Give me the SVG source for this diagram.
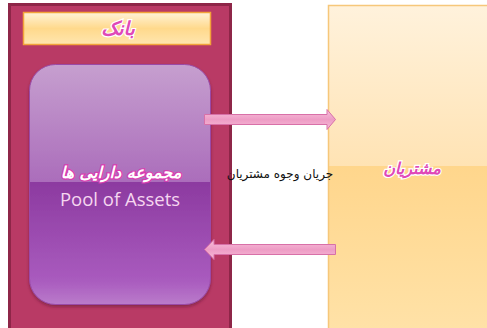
<svg xmlns="http://www.w3.org/2000/svg" width="487" height="328" viewBox="0 0 487 328">
<defs>
<linearGradient id="title" x1="0" y1="0" x2="0" y2="1">
<stop offset="0" stop-color="#FFF3D8"/>
<stop offset="0.5" stop-color="#FFD98C"/>
<stop offset="1" stop-color="#FFE6B0"/>
</linearGradient>
<linearGradient id="pool" x1="0" y1="0" x2="0" y2="1">
<stop offset="0" stop-color="#C69FCF"/>
<stop offset="0.49" stop-color="#AB6DBB"/>
<stop offset="0.49" stop-color="#8C3AA0"/>
<stop offset="0.9" stop-color="#A95BBE"/>
<stop offset="1" stop-color="#BA7BCB"/>
</linearGradient>
<linearGradient id="cust" x1="0" y1="0" x2="0" y2="1">
<stop offset="0" stop-color="#FFF2DC"/>
<stop offset="0.485" stop-color="#FFE3B4"/>
<stop offset="0.485" stop-color="#FFD68C"/>
<stop offset="1" stop-color="#FFE2A8"/>
</linearGradient>
<linearGradient id="arrow" x1="0" y1="0" x2="0" y2="1">
<stop offset="0" stop-color="#F7C2DC"/>
<stop offset="0.5" stop-color="#EE9CC5"/>
<stop offset="1" stop-color="#F6BCD8"/>
</linearGradient>
<filter id="sh" x="-10%" y="-10%" width="120%" height="120%">
<feDropShadow dx="0" dy="2" stdDeviation="1.5" flood-color="#5A1030" flood-opacity="0.5"/>
</filter>
</defs>
<style>
.fa{font-family:"DejaVu Sans","Noto Sans",sans-serif;}
.lbl{font-weight:bold;font-style:italic;fill:#E048B8;stroke:#FFFFFF;stroke-width:2.4;paint-order:stroke;}
.lblw{font-weight:bold;font-style:italic;fill:#FFFFFF;stroke:#D93CB0;stroke-width:2.4;paint-order:stroke;}
.arr{fill:url(#arrow);stroke:#D870A8;stroke-width:1;}
</style>
<g id="bank">
<rect x="9.5" y="4.5" width="221" height="330" fill="#B93A65" stroke="#8E2648" stroke-width="3"/>
</g>
<g id="bank-title">
<rect x="23.5" y="12.5" width="187" height="32" fill="url(#title)" stroke="#F2A33A" stroke-width="1.5"/>
<text class="fa lbl" x="118" y="35" font-size="19" text-anchor="middle" direction="rtl">بانک</text>
</g>
<g id="pool">
<rect x="29.5" y="64.5" width="181" height="240" rx="26" fill="url(#pool)" stroke="#9A4AA8" stroke-width="1" filter="url(#sh)"/>
<text class="fa lblw" x="121" y="178" font-size="16" text-anchor="middle" direction="rtl">مجموعه دارایی ها</text>
<text x="120" y="206" font-family="'Open Sans','DejaVu Sans',sans-serif" font-size="18.5" fill="#F6D6F0" text-anchor="middle">Pool of Assets</text>
</g>
<g id="customers">
<rect x="328.5" y="5.5" width="170" height="330" fill="url(#cust)" stroke="#F6C77A" stroke-width="1.5"/>
<text class="fa lbl" x="412" y="174" font-size="16" text-anchor="middle" direction="rtl">مشتریان</text>
</g>
<g id="connectors">
<path class="arr" d="M204.5,114.5 H327 V109.5 L335.5,119.5 L327,129.5 V124.5 H204.5 Z"/>
<path class="arr" d="M335.5,244.5 H214 V239.5 L204.5,249.5 L214,259.5 V254.5 H335.5 Z"/>
<text class="fa" x="280" y="178" font-size="12" fill="#111111" text-anchor="middle" direction="rtl">جریان وجوه مشتریان</text>
</g>
</svg>
